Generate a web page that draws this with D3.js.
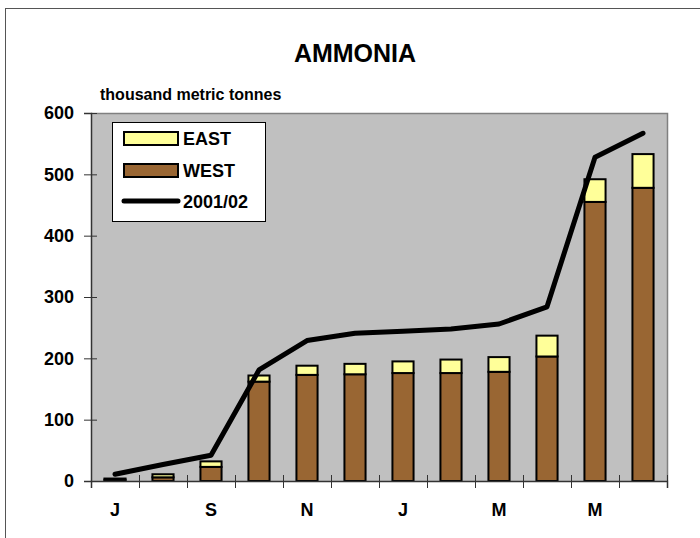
<!DOCTYPE html>
<html>
<head>
<meta charset="utf-8">
<script src="https://cdn.jsdelivr.net/npm/d3@7"></script>
<style>
  body { margin: 0; background: #fff; }
  text { font-family: "Liberation Sans", Arial, sans-serif; font-weight: bold; fill: #000; }
</style>
</head>
<body>
<div id="chart"></div>
<script>
// months Jul -> Jun, only every other one is labelled
var months = ["J", "A", "S", "O", "N", "D", "J", "F", "M", "A", "M", "J"];
var west = [2, 6, 23, 162, 173, 174, 176, 176, 178, 203, 455, 478];
var east = [2, 5, 9, 10, 15, 17, 19, 22, 24, 34, 37, 55];
var prev = [11, 27, 42, 181, 229, 241, 244, 248, 256, 284, 528, 567];
var yTicks = [0, 100, 200, 300, 400, 500, 600];

var width = 700, height = 538;
var plotL = 91, plotR = 667, plotT = 113, plotB = 481;

var svg = d3.select("#chart").append("svg")
    .attr("width", width)
    .attr("height", height);

// outer frame (right and bottom edges fall outside the picture)
svg.append("rect")
    .attr("x", 5.5).attr("y", 8.5)
    .attr("width", 700).attr("height", 540)
    .attr("fill", "none").attr("stroke", "#555").attr("stroke-width", 1);

var idx = d3.range(months.length);
var x = d3.scaleBand().domain(idx).range([plotL, plotR]);
var xEdge = d3.scaleLinear().domain([0, months.length]).range([plotL, plotR]);
var y = d3.scaleLinear().domain([0, 600]).range([plotB, plotT]);

// plot area
svg.append("rect")
    .attr("x", plotL).attr("y", plotT)
    .attr("width", plotR - plotL).attr("height", plotB - plotT)
    .attr("fill", "#c0c0c0");
svg.append("path")
    .attr("d", "M" + plotL + "," + (plotT + 0.5) + "H" + (plotR + 0.5) + "V" + plotB)
    .attr("fill", "none").attr("stroke", "#808080").attr("stroke-width", 1.5);

// bars
var bw = x.bandwidth() * 0.44;
var g = svg.append("g");
idx.forEach(function(i) {
    var cx = x(i) + x.bandwidth() / 2;
    g.append("rect")
        .attr("x", cx - bw / 2).attr("width", bw)
        .attr("y", y(west[i])).attr("height", y(0) - y(west[i]))
        .attr("fill", "#996633").attr("stroke", "#000").attr("stroke-width", 2);
    g.append("rect")
        .attr("x", cx - bw / 2).attr("width", bw)
        .attr("y", y(west[i] + east[i])).attr("height", y(west[i]) - y(west[i] + east[i]))
        .attr("fill", "#ffff99").attr("stroke", "#000").attr("stroke-width", 2);
});

// 2001/02 line
var line = d3.line()
    .x(function(d, i) { return x(i) + x.bandwidth() / 2; })
    .y(function(d) { return y(d); });
svg.append("path")
    .datum(prev)
    .attr("d", line)
    .attr("fill", "none").attr("stroke", "#000")
    .attr("stroke-width", 5).attr("stroke-linejoin", "round").attr("stroke-linecap", "round");

// y axis
var yAxis = svg.append("g")
    .attr("transform", "translate(" + plotL + ",0)")
    .call(d3.axisLeft(y).tickValues(yTicks).tickSize(7).tickPadding(10));
yAxis.selectAll(".tick line").attr("x1", 6).attr("stroke", "#333");
yAxis.select(".domain").attr("stroke", "#333").attr("stroke-width", 1.5);
yAxis.selectAll("text").attr("font-size", "18px").attr("x", -17);

// x axis ticks at category edges
var xAxis = svg.append("g")
    .attr("transform", "translate(0," + plotB + ")")
    .call(d3.axisBottom(xEdge).tickValues(d3.range(months.length + 1)).tickFormat("").tickSize(7));
xAxis.selectAll(".tick line").attr("y1", -6).attr("stroke", "#333");
xAxis.select(".domain").attr("stroke", "#333").attr("stroke-width", 1.5);

// x labels, every other month
var xLab = svg.append("g")
    .attr("transform", "translate(0," + plotB + ")")
    .call(d3.axisBottom(x).tickSize(0).tickPadding(22)
        .tickFormat(function(i) { return i % 2 === 0 ? months[i] : ""; }));
xLab.select(".domain").remove();
xLab.selectAll("text").attr("font-size", "18px");

// titles
svg.append("text")
    .attr("x", 355).attr("y", 62)
    .attr("text-anchor", "middle")
    .attr("font-size", "25px")
    .text("AMMONIA");
svg.append("text")
    .attr("x", 100).attr("y", 100)
    .attr("font-size", "16px")
    .text("thousand metric tonnes");

// legend
var lg = svg.append("g");
lg.append("rect")
    .attr("x", 112.5).attr("y", 122.5).attr("width", 153).attr("height", 99)
    .attr("fill", "#fff").attr("stroke", "#000").attr("stroke-width", 1);
var items = [
    { name: "EAST", color: "#ffff99", y: 138 },
    { name: "WEST", color: "#996633", y: 170 }
];
items.forEach(function(d) {
    lg.append("rect")
        .attr("x", 124).attr("y", d.y - 6).attr("width", 54).attr("height", 13)
        .attr("fill", d.color).attr("stroke", "#000").attr("stroke-width", 2);
    lg.append("text").attr("x", 183).attr("y", d.y + 7).attr("font-size", "18px").text(d.name);
});
lg.append("line")
    .attr("x1", 124).attr("x2", 178).attr("y1", 201).attr("y2", 201)
    .attr("stroke", "#000").attr("stroke-width", 5).attr("stroke-linecap", "round");
lg.append("text").attr("x", 183).attr("y", 208).attr("font-size", "18px").text("2001/02");
</script>
</body>
</html>
